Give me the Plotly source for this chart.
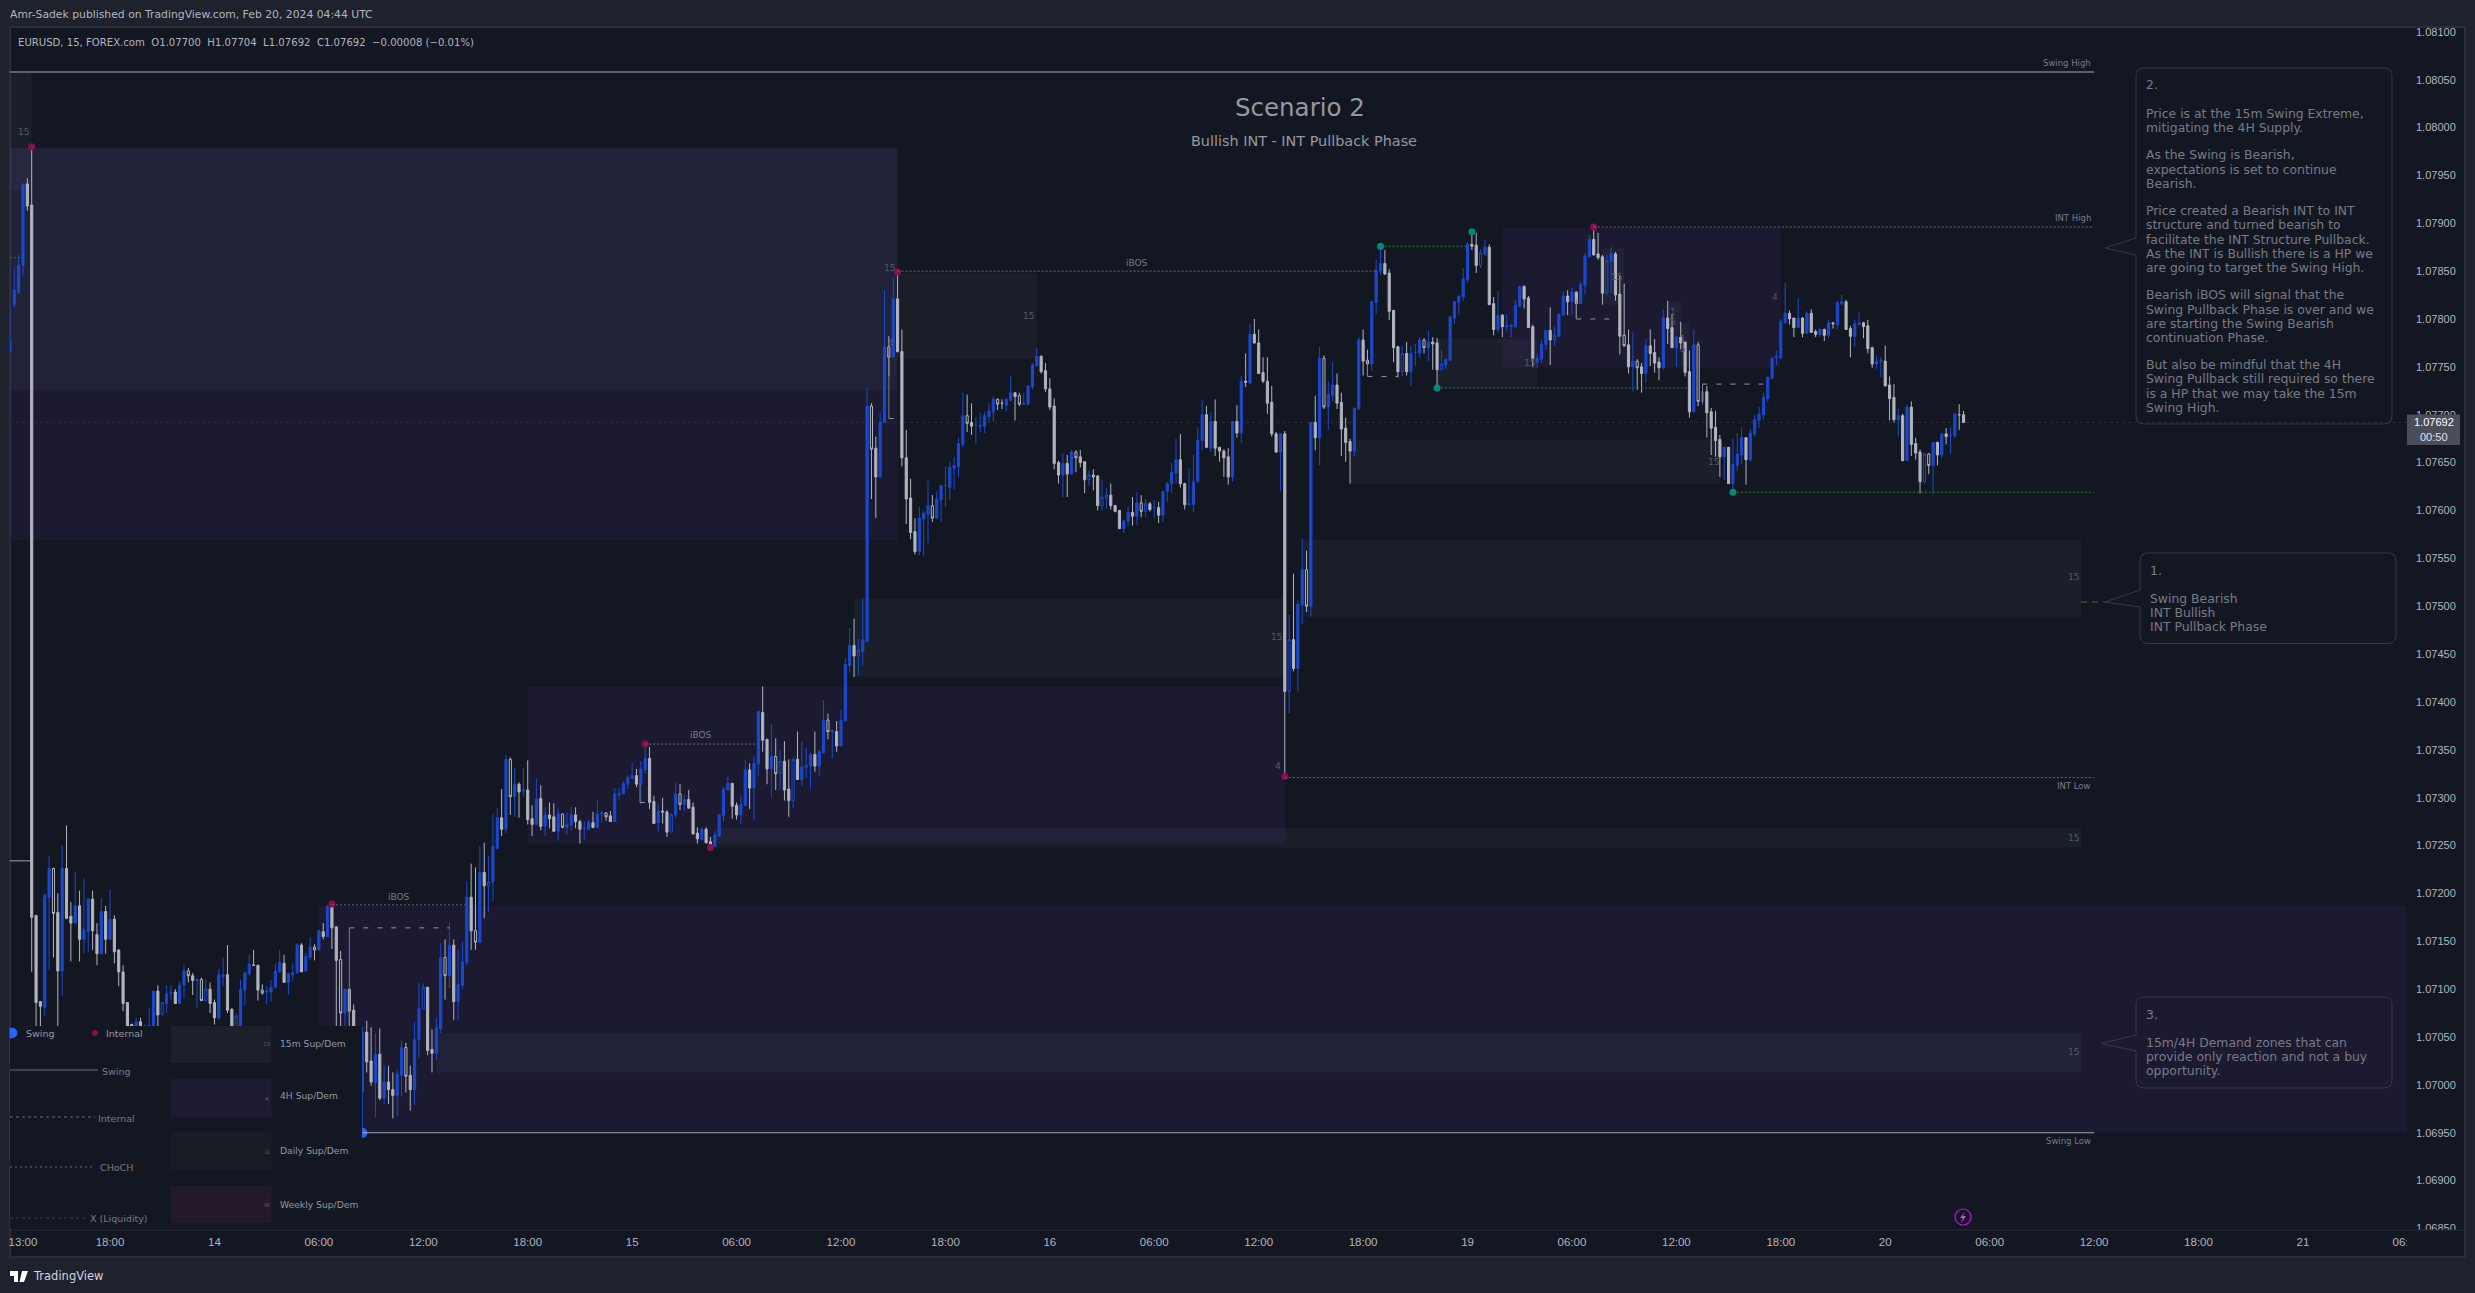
import plotly.graph_objects as go

# ---- price data: points above 1.07000 (1 point = 0.00001), 15-minute bars, bar index from -3 ----
BASE = 1.07
POINT = 0.00001
first_bar = -3
opens = [766,815,828,856,941,919,177,87,81,196,
226,180,119,226,176,169,187,152,160,194,
157,137,181,152,173,141,118,86,63,60,
66,60,58,55,98,74,85,96,97,85,
104,119,114,109,110,88,100,86,70,113,
115,79,58,58,99,116,125,125,99,97,
97,102,118,127,107,115,117,146,119,133,
144,141,160,155,186,165,131,75,100,78,
50,-7,55,25,2,32,-14,3,-5,-11,
10,39,10,-5,47,79,102,37,33,59,
133,114,146,87,104,128,196,161,149,222,
208,212,247,279,267,340,301,314,307,308,
278,272,299,270,282,280,265,283,269,271,
282,275,268,267,274,269,283,284,281,275,
303,304,314,320,323,314,329,341,296,274,
286,285,264,282,304,293,298,290,263,256,
267,254,249,260,281,308,315,292,282,292,
329,310,335,389,361,330,343,325,338,309,
297,340,319,331,333,345,333,347,381,369,
369,354,380,438,459,448,453,463,709,665,
635,692,771,760,821,766,655,613,578,557,
591,596,605,592,611,626,624,644,646,669,
699,692,689,688,688,698,703,716,712,710,
715,723,720,711,711,729,751,761,746,727,
709,650,637,649,638,661,656,651,632,637,
636,605,613,616,605,600,581,589,598,594,
608,599,607,603,603,595,620,628,639,653,
628,606,606,630,673,700,665,693,666,662,
656,635,693,681,735,733,784,775,744,735,
713,680,661,680,411,465,435,501,538,500,
692,676,759,708,720,731,713,686,672,662,
706,778,757,753,817,850,858,848,809,771,
745,764,745,765,764,778,770,776,775,747,
752,757,801,817,823,841,878,877,856,868,
875,816,789,804,792,792,792,813,834,822,
792,755,758,773,788,778,782,804,824,818,
828,816,835,865,883,868,865,827,860,868,
826,783,773,750,756,750,743,772,765,755,
749,801,791,770,781,776,745,703,773,714,
724,703,687,674,656,666,628,647,658,676,
653,680,694,700,717,738,760,759,796,806,
801,791,801,785,806,787,784,789,783,796,
794,816,818,790,782,794,796,793,770,753,
756,756,731,718,695,699,652,708,670,661,
630,659,647,671,658,680,678,678,700,700]
highs = [815,853,867,941,947,980,177,87,200,239,
227,200,250,271,191,223,203,216,195,203,
169,195,187,204,177,141,125,86,64,70,
70,62,80,98,104,86,104,104,100,108,
126,122,117,111,112,110,107,89,121,133,
146,80,75,110,118,136,141,125,105,103,
110,127,141,136,117,127,148,148,138,154,
147,162,169,188,188,166,140,100,100,84,
60,61,67,60,54,59,20,20,13,15,
46,44,20,66,106,106,102,58,70,148,
152,169,152,141,150,213,231,227,249,253,
239,283,289,309,345,342,331,316,331,339,
292,320,313,290,295,294,289,283,285,290,
290,277,275,277,285,297,286,285,286,310,
310,317,323,337,330,338,353,353,302,294,
300,287,284,316,314,303,308,295,269,269,
269,259,265,283,311,322,315,295,302,340,
336,343,391,416,361,377,362,350,359,340,
341,369,359,352,347,369,350,402,388,371,
380,392,446,477,487,466,508,728,712,677,
703,830,782,843,849,789,684,633,592,604,
600,631,616,620,626,646,651,656,676,723,
721,712,697,702,703,712,719,717,716,718,
740,723,723,723,731,754,770,762,754,738,
717,652,660,658,663,663,663,651,642,643,
637,632,623,628,606,600,590,604,614,619,
616,612,609,611,609,620,630,650,675,680,
629,644,658,687,715,709,703,716,666,664,
665,693,710,741,764,795,800,789,760,760,
730,682,680,683,491,534,506,570,558,692,
720,771,762,735,755,743,723,697,675,707,
781,789,768,818,862,874,872,852,809,772,
772,776,772,774,781,780,788,781,780,768,
758,804,819,824,853,880,888,890,873,883,
878,823,829,805,805,795,820,835,835,824,
794,764,778,789,812,792,805,829,830,833,
829,839,869,888,893,890,867,867,875,870,
846,837,789,786,758,754,779,789,779,760,
810,819,805,783,797,776,767,789,776,731,
730,707,704,679,667,666,675,681,687,676,
685,700,708,723,740,760,767,800,838,809,
801,822,802,808,810,789,790,790,799,797,
819,825,820,793,799,807,797,799,771,761,
760,772,740,732,706,701,711,714,676,664,
660,660,671,672,680,686,687,701,711,704]
lows = [766,812,826,845,913,118,55,60,72,120,
133,60,93,173,129,169,129,137,139,141,
125,137,137,152,127,103,77,45,50,55,
50,45,50,50,60,72,75,89,85,85,
90,107,94,80,88,87,75,63,68,103,
75,55,55,55,83,114,124,88,94,84,
87,101,117,107,94,108,116,118,118,130,
130,141,152,155,142,60,60,60,60,45,
40,-50,13,-1,-34,-16,-20,-20,-35,-33,
-12,-8,-27,-21,28,79,31,13,26,54,
89,101,68,68,100,125,141,141,148,174,
180,192,246,260,263,282,280,279,301,272,
260,271,266,260,268,264,255,268,261,266,
268,252,256,266,268,268,274,276,275,275,
298,304,309,320,311,293,325,288,273,265,
273,259,264,279,287,286,289,262,252,256,
252,245,249,259,275,308,278,277,272,292,
288,276,322,348,314,300,308,308,297,280,
289,319,312,321,309,327,323,347,361,341,
348,354,380,431,426,428,438,463,612,592,
635,692,740,760,765,646,586,570,554,553,
552,566,588,592,588,604,611,622,635,666,
682,679,670,682,681,693,693,705,706,704,
714,694,709,711,711,726,750,743,724,705,
643,628,614,614,638,640,645,618,626,621,
600,600,602,601,598,581,576,584,584,585,
593,593,599,592,587,588,609,618,628,624,
601,606,598,630,663,665,661,657,651,635,
627,630,676,670,729,733,774,743,733,701,
677,660,620,322,388,432,411,481,494,489,
663,647,706,684,714,706,657,651,628,657,
705,741,741,746,805,846,846,799,755,739,
740,741,730,751,759,764,756,747,728,747,
748,757,795,804,819,838,872,848,853,866,
815,783,786,781,787,781,791,813,811,791,
750,749,754,768,752,772,781,804,804,804,
801,816,826,864,866,862,815,825,827,819,
763,771,743,724,726,723,733,751,744,736,
747,774,770,750,768,740,697,703,709,710,
676,658,656,635,632,628,621,641,648,627,
651,677,686,695,713,738,752,759,796,794,
781,791,781,785,786,781,781,777,780,790,
789,814,789,760,771,794,780,764,749,748,
739,730,694,692,677,652,652,657,653,618,
628,638,617,647,655,669,659,675,684,692]
closes = [778,830,856,941,918,175,86,82,198,226,
179,119,226,174,169,187,152,162,194,161,
137,181,152,173,139,118,85,50,58,66,
60,58,62,98,73,86,95,96,85,104,
119,114,109,110,88,100,85,70,115,115,
78,58,72,100,117,126,125,99,96,98,
102,119,128,107,116,117,146,118,134,144,
141,161,155,186,164,130,75,100,77,50,
55,55,24,3,32,-14,3,-5,-11,11,
39,9,-5,47,80,102,36,33,60,133,
114,146,87,105,128,196,161,149,222,208,
212,249,279,267,340,301,314,306,308,277,
272,299,270,282,278,265,283,269,272,282,
275,267,268,274,269,283,284,280,275,304,
304,315,321,323,314,330,341,295,273,286,
285,264,282,304,293,298,289,262,257,267,
253,249,261,282,309,315,291,282,293,329,
310,336,390,360,330,343,325,338,308,297,
340,319,332,334,345,333,348,381,369,370,
354,381,439,459,448,454,465,709,664,635,
692,771,760,821,766,655,612,577,557,592,
597,605,592,612,626,626,645,647,670,699,
691,688,689,689,699,704,716,711,712,716,
723,719,711,712,730,752,761,745,727,708,
649,637,649,638,661,655,650,632,637,635,
605,614,616,605,599,581,589,598,594,608,
599,607,601,603,595,620,628,640,653,628,
606,607,630,673,700,666,693,665,662,655,
635,693,681,735,734,784,775,743,735,712,
680,661,680,411,465,435,502,538,500,692,
676,759,708,721,731,712,685,671,662,707,
778,756,753,818,851,858,847,808,770,745,
764,745,764,765,778,770,776,774,747,753,
758,802,818,824,842,878,876,856,869,875,
815,789,804,792,793,793,814,834,821,791,
759,759,774,788,778,783,805,824,818,828,
816,836,866,883,867,864,827,861,868,825,
782,772,750,756,749,743,772,764,754,749,
801,790,770,781,775,744,703,773,714,724,
702,686,673,656,666,628,648,659,676,653,
681,695,701,718,739,759,761,797,806,800,
791,801,785,806,786,784,789,783,796,795,
817,818,789,782,795,796,792,769,753,756,
757,730,717,695,699,652,708,669,660,630,
659,647,671,658,680,677,678,701,700,692]
hollow_bars = [7,38,41,55,67,73,88,97,104,112,124,134,151,173,185,195,199,209,217,224,229,242,257,295,299,309,322,368,371,385,438,
               32,42,49,92,107,149,174,177,180,192,245,248,249,258,291,317,326,335,352,364,386,437]

# axis
price_ticks = [1.0685 + 0.0005 * i for i in range(26)]
time_tick_bars = [0,20,44,68,92,116,140,164,188,212,236,260,284,308,332,356,380,404,428,452,476,500,524,547.9]
time_tick_text = ["13:00","18:00","14","06:00","12:00","18:00","15","06:00","12:00","18:00","16","06:00","12:00","18:00","19","06:00","12:00","18:00","20","06:00","12:00","18:00","21","06:00"]

# zones: bar start, bar end, low, high (points), kind
zone_start = [-3,-3,-3,201,191,116,159,68,95,294,305,325,340,363,378,381]
zone_end   = [201,201,2,233,290,290,473,548,473,473,390,348,404,368,381,383]
zone_low   = [569,726,935,759,426,252,248,-50,13,489,628,728,749,815,785,750]
zone_high  = [979,979,1058,848,508,416,268,187,54,569,674,779,895,874,818,796]
zone_kind  = ["4H","15","15","15","15","4H","15","4H","15","15","15","15","4H","15","15","15"]

# levels: bar start, bar end, value, style
level_start = [-3,361,393,290,78,71,143,201,312,325,-3,-3]
level_end   = [476,476,476,476,476,101.6,169,311,332,383,2,0]
level_value = [1058,896,619,321,-50,188,356,850,876,728,234,864]
level_style = ["swing","int","green","int","swing","int","int","int","green","green","swing","green"]

# bracket: corner bar, vertical from, horizontal level, end bar
bracket_bar = [75,141.8,199,309,357,386]
bracket_far = [62,315,771,757,820,712]
bracket_lvl = [164,295,696,740,800,732]
bracket_end = [98,145,202,316,366,400]

internal_pts_bar = [2,71,143,158,201,290,361]
internal_pts_val = [980,189,356,248,849,322,896]
strong_pts_bar = [312,333,325,393]
strong_pts_val = [876,891,728,619]
swing_pts_bar = [78]
swing_pts_val = [-50]
last_price = 692

# ---- layout constants ----
W, H = 2475, 1293
PL, PR, PT, PB = 10, 2407, 27, 1230
BAR_PX = 4.351
BG = "#131722"; FRAME = "#1e222d"; BORDER = "#2a2e39"
BLUE = "#1a49cf"; GREY = "#b2b5be"
TXT = "#787b86"
FONT = "DejaVu Sans"

def price(v):
    return BASE + v * POINT

def X(px):
    return (px - PL) / (PR - PL)

def Y(py):
    return (PB - py) / (PB - PT)

hollow = set(hollow_bars)
bars = [first_bar + i for i in range(len(opens))]

def subset(arr, keep):
    return [price(v) if keep(b) else None for v, b in zip(arr, bars)]

def candle(keep, up_fill, dn_fill):
    return go.Candlestick(
        x=bars,
        open=subset(opens, keep), high=subset(highs, keep),
        low=subset(lows, keep), close=subset(closes, keep),
        increasing=dict(line=dict(color=BLUE, width=1), fillcolor=up_fill),
        decreasing=dict(line=dict(color=GREY, width=1), fillcolor=dn_fill),
        whiskerwidth=0, hoverinfo="skip", showlegend=False)

fig = go.Figure()
fig.add_trace(candle(lambda b: b not in hollow, BLUE, GREY))
fig.add_trace(candle(lambda b: b in hollow, "rgba(0,0,0,0)", "rgba(0,0,0,0)"))

def dots(bx, vs, color, size=7):
    fig.add_trace(go.Scatter(x=bx, y=[price(v) for v in vs], mode="markers",
                             marker=dict(color=color, size=size), hoverinfo="skip", showlegend=False))

dots(internal_pts_bar, internal_pts_val, "#880e4f")
dots(strong_pts_bar, strong_pts_val, "#00897b")
dots(swing_pts_bar, swing_pts_val, "#2962ff", 10)

shapes = []

def prect(x0, y0, x1, y1, fill, layer="below", line=None):
    shapes.append(dict(type="rect", xref="paper", yref="paper", x0=X(x0), x1=X(x1), y0=Y(y1), y1=Y(y0),
                       fillcolor=fill, line=line or dict(width=0), layer=layer))

def pline(x0, y0, x1, y1, color, width=1, dash="solid", layer="above"):
    shapes.append(dict(type="line", xref="paper", yref="paper", x0=X(x0), x1=X(x1), y0=Y(y0), y1=Y(y1),
                       line=dict(color=color, width=width, dash=dash), layer=layer))

# pane and frame
prect(PL, PT, 2465, 1257, BG, line=dict(color=BORDER, width=2))

# zones
for s, e, lo, hi, kind in zip(zone_start, zone_end, zone_low, zone_high, zone_kind):
    fill = "rgba(103,58,183,0.105)" if kind == "4H" else "rgba(120,123,134,0.08)"
    shapes.append(dict(type="rect", xref="x", yref="y", x0=s, x1=e, y0=price(lo), y1=price(hi),
                       fillcolor=fill, line=dict(width=0), layer="below"))

# last price line
shapes.append(dict(type="line", xref="x", yref="y", x0=-3, x1=548, y0=price(last_price), y1=price(last_price),
                   line=dict(color="#2a2e39", width=1, dash="dot"), layer="below"))

# structure levels
for s, e, v, st in zip(level_start, level_end, level_value, level_style):
    style = {"swing": dict(color="#a3a6af", width=1),
             "int": dict(color="#6a6d78", width=1, dash="2px,2px"),
             "green": dict(color="#2e7d32", width=1, dash="2px,2px")}[st]
    shapes.append(dict(type="line", xref="x", yref="y", x0=s, x1=e, y0=price(v), y1=price(v),
                       line=style, layer="above"))

for b, far, lvl, e in zip(bracket_bar, bracket_far, bracket_lvl, bracket_end):
    shapes.append(dict(type="line", xref="x", yref="y", x0=b, x1=b, y0=price(far), y1=price(lvl),
                       line=dict(color=TXT, width=1), layer="above"))
    shapes.append(dict(type="line", xref="x", yref="y", x0=b, x1=e, y0=price(lvl), y1=price(lvl),
                       line=dict(color="#9598a1", width=1, dash="5px,9px"), layer="above"))

# legend panel
prect(PL, 1026, 362, 1228, BG, layer="above")
for y0, y1, c in [(1026,1063,"#1b202a"),(1079,1117,"#1c1b31"),(1132,1170,"#181c25"),(1186,1223,"#24192b")]:
    prect(171, y0, 271.5, y1, c, layer="above")
pline(PL, 1070, 98, 1070, "#6a6d78")
pline(PL, 1117, 95, 1117, "#6a6d78", dash="dot")
pline(PL, 1167, 95, 1167, "#6a6d78", dash="2px,3px", width=1.2)
pline(PL, 1218, 85, 1218, "#3f434e", dash="dot")

def path(d, fill="rgba(0,0,0,0)", color="#363a45", width=1, layer="above"):
    shapes.append(dict(type="path", xref="paper", yref="paper", path=d, fillcolor=fill,
                       line=dict(color=color, width=width), layer=layer))

def P(x, y):
    return f"{X(x):.6f},{Y(y):.6f}"

# legend dots
path(f"M{P(10,1028)} Q{P(17,1028)} {P(17,1033)} Q{P(17,1038)} {P(10,1038)} Z", fill="#2962ff", color="#2962ff")
shapes.append(dict(type="circle", xref="paper", yref="paper", x0=X(92), x1=X(98), y0=Y(1036), y1=Y(1030),
                   fillcolor="#880e4f", line=dict(width=0), layer="above"))

# callouts: x0, y0, x1, y1, tip x, tip y, base y0, base y1
def callout(x0, y0, x1, y1, tx, ty, b0, b1):
    r = 8
    d = (f"M{P(x0+r,y0)} L{P(x1-r,y0)} Q{P(x1,y0)} {P(x1,y0+r)} L{P(x1,y1-r)} Q{P(x1,y1)} {P(x1-r,y1)} "
         f"L{P(x0+r,y1)} Q{P(x0,y1)} {P(x0,y1-r)} L{P(x0,b1)} L{P(tx,ty)} L{P(x0,b0)} L{P(x0,y0+r)} Q{P(x0,y0)} {P(x0+r,y0)} Z")
    path(d)

callout(2136, 68, 2392, 424, 2105, 248, 238, 255)
callout(2140, 553, 2396, 643.5, 2105, 602, 590, 607)
callout(2136, 997, 2392, 1088, 2101, 1043.5, 1035, 1051)
pline(2081, 602, 2105, 602, "#7a5420", dash="6px,5px")

# price tag and clipped scale corner
prect(2407, 414.5, 2460, 445, "#4a4e5b", layer="above")
prect(2407, 1230, 2464, 1256, BG, layer="above")
pline(PL, 1230, 2465, 1230, BORDER, width=1)

# TradingView logo and lightning icon
path(f"M{P(10,1271)} L{P(18,1271)} L{P(18,1282)} L{P(14,1282)} L{P(14,1276)} L{P(10,1276)} Z", fill="#ffffff", color="#ffffff", width=0)
path(f"M{P(22,1271)} L{P(28,1271)} L{P(24,1282)} L{P(19.5,1282)} Z", fill="#ffffff", color="#ffffff", width=0)
shapes.append(dict(type="circle", xref="paper", yref="paper", x0=X(1955), x1=X(1971), y0=Y(1225), y1=Y(1209),
                   fillcolor="rgba(0,0,0,0)", line=dict(color="#d500f9", width=1.2), layer="above"))
path(f"M{P(1965,1212)} L{P(1960,1218)} L{P(1963,1218)} L{P(1961,1223)} L{P(1966,1216)} L{P(1963,1216)} Z", fill="#e040fb", color="#e040fb", width=0)

annotations = []

def text(x, y, s, size=10, color=TXT, anchor="left", family=FONT):
    annotations.append(dict(xref="paper", yref="paper", x=X(x), y=Y(y), text=s, showarrow=False, xanchor=anchor,
                            yanchor="middle", align=anchor, font=dict(family=family, size=size, color=color),
                            borderpad=0, borderwidth=0))

text(10, 15, "Amr-Sadek published on TradingView.com, Feb 20, 2024 04:44 UTC", 10.8, "#b2b5be")
text(18, 42, "EURUSD, 15, FOREX.com  O1.07700  H1.07704  L1.07692  C1.07692  −0.00008 (−0.01%)", 10.1, "#b2b5be")
text(1300, 107, "Scenario 2", 24.5, "#9598a1", "center")
text(1304, 141, "Bullish INT - INT Pullback Phase", 14.4, "#9598a1", "center")

for x, y, s in [(2091,63.5,"Swing High"),(2091,218,"INT High"),(2091,786,"INT Low"),(2091,1141,"Swing Low")]:
    text(x, y, s, 8.5, TXT, "right")
for x, y, s in [(399,897,"iBOS"),(700.7,735,"iBOS"),(1137,263,"iBOS")]:
    text(x, y, s, 9, TXT, "center")
for x, y, s in [(23,132,"15"),(889,268,"15"),(891,343,"4"),(1028,316,"15"),(1276,637,"15"),(1278,766,"4"),
                (2073,838,"15"),(2073,1052,"15"),(2073,577,"15"),(1713,462,"15"),(1529,363,"15"),(1775,297,"4"),
                (1616,277,"15"),(1673,312,"1"),(1673,322,"5"),(1683,339,"1"),(1683,349,"5")]:
    text(x, y, s, 9, "#565a65", "center")

# legend text
text(26, 1033, "Swing", 9.5, "#9598a1")
text(106, 1033, "Internal", 9.5, "#9598a1")
text(102, 1071, "Swing", 9.5, "#787b86")
text(98, 1118, "Internal", 9.5, "#787b86")
text(100, 1167, "CHoCH", 9.5, "#787b86")
text(90, 1218, "X (Liquidity)", 9.5, "#787b86")
for y, s in [(1043,"15m Sup/Dem"),(1095,"4H Sup/Dem"),(1150,"Daily Sup/Dem"),(1204,"Weekly Sup/Dem")]:
    text(280, y, s, 9.2, "#9598a1")
for y, s in [(1043,"15"),(1098,"4"),(1151,"D"),(1204,"W")]:
    text(267, y, s, 6, "#565a65", "center")

# callout text
box2 = ["2.", "", "Price is at the 15m Swing Extreme,", "mitigating the 4H Supply.", "",
        "As the Swing is Bearish,", "expectations is set to continue", "Bearish.", "",
        "Price created a Bearish INT to INT", "structure and turned bearish to", "facilitate the INT Structure Pullback.",
        "As the INT is Bullish there is a HP we", "are going to target the Swing High.", "",
        "Bearish iBOS will signal that the", "Swing Pullback Phase is over and we", "are starting the Swing Bearish",
        "continuation Phase.", "", "But also be mindful that the 4H", "Swing Pullback still required so there",
        "is a HP that we may take the 15m", "Swing High."]
box1 = ["1.", "", "Swing Bearish", "INT Bullish", "INT Pullback Phase"]
box3 = ["3.", "", "15m/4H Demand zones that can", "provide only reaction and not a buy", "opportunity."]
for lines, x, y0 in [(box2, 2146, 85), (box1, 2150, 570), (box3, 2146, 1014)]:
    for i, s in enumerate(lines):
        if s:
            text(x, y0 + 14 * i, s, 12.4, TXT)

text(2433.5, 422, "1.07692", 11, "#ffffff", "center", "Liberation Sans")
text(2433.5, 437, "00:50", 11, "#e0e3eb", "center", "Liberation Sans")
text(33, 1276, "TradingView", 11.5, "#d1d4dc")

fig.update_layout(
    width=W, height=H, autosize=False,
    paper_bgcolor=FRAME, plot_bgcolor="rgba(0,0,0,0)",
    margin=dict(l=PL, r=W - PR, t=PT, b=H - PB, pad=0),
    showlegend=False, hovermode=False, dragmode=False,
    shapes=shapes, annotations=annotations,
    font=dict(family=FONT, color="#b2b5be", size=11),
    xaxis=dict(range=[(PL - 23) / BAR_PX, (PR - 23) / BAR_PX], tickmode="array",
               tickvals=time_tick_bars, ticktext=time_tick_text, showgrid=False, zeroline=False,
               showline=False, ticks="", rangeslider=dict(visible=False), ticklabelstandoff=3,
               tickfont=dict(family="Liberation Sans", size=11.5, color="#b2b5be")),
    yaxis=dict(range=[1.068484, 1.08105], side="right", tickmode="array", tickvals=price_ticks,
               ticktext=[f"{p:.5f}" for p in price_ticks], showgrid=False, zeroline=False,
               showline=False, ticks="", ticklabelstandoff=8,
               tickfont=dict(family="Liberation Sans", size=11, color="#b2b5be")),
)

fig.write_html("out.html", config={"displayModeBar": False},
               post_script="document.body.style.margin='0';document.body.style.background='#1e222d';")
